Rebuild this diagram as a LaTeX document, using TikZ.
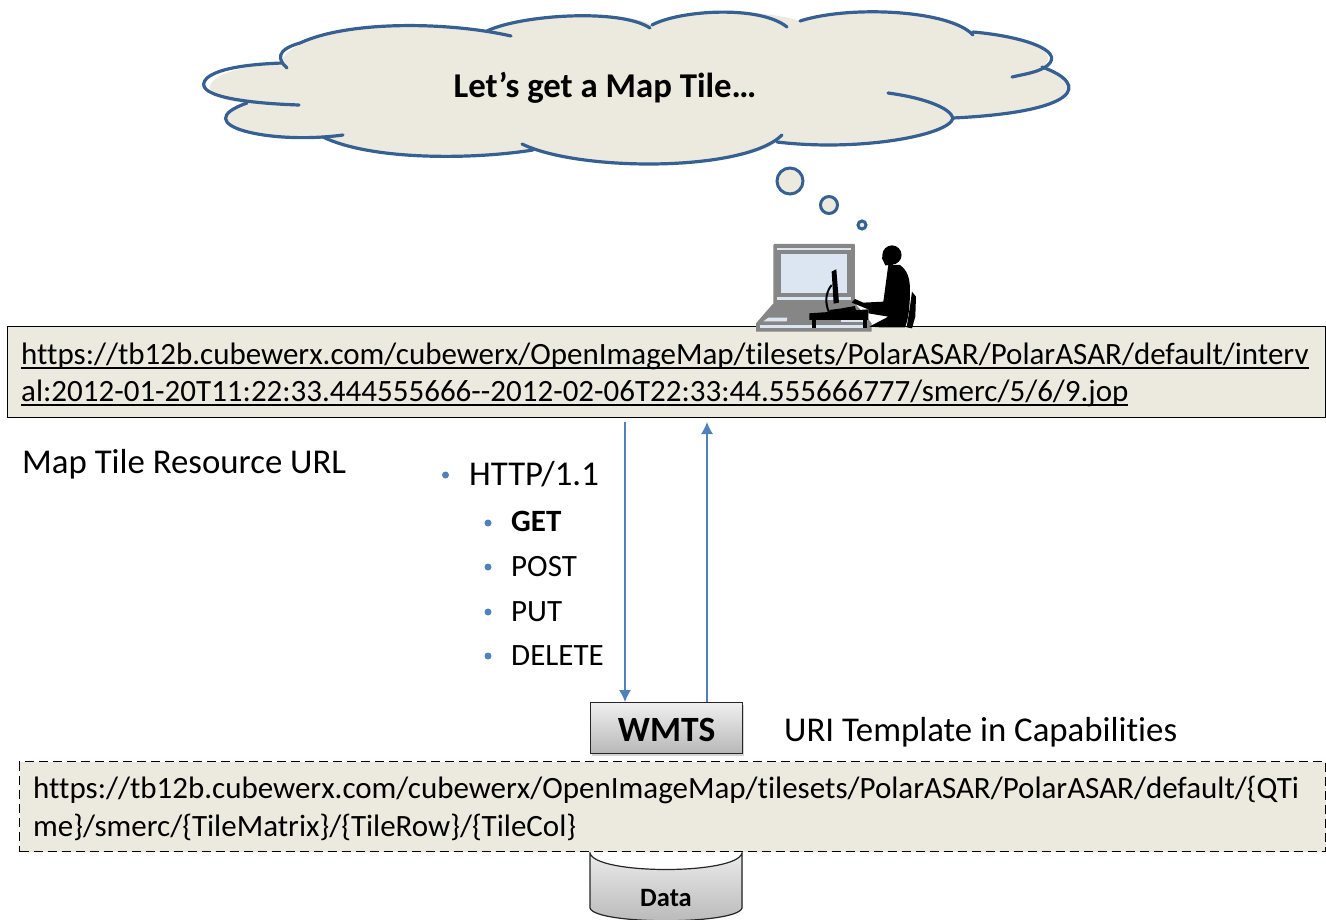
\documentclass[tikz,border=0pt]{standalone}
\usepackage{fontspec}
\setmainfont[Ligatures=NoCommon]{Carlito}
\usetikzlibrary{shadows,arrows.meta}
\definecolor{cloudfill}{HTML}{ECEADF}
\definecolor{cloudline}{HTML}{376092}
\definecolor{bul}{HTML}{4F81BD}
\definecolor{lapgray}{HTML}{868686}
\definecolor{lapblue}{HTML}{DCE6F2}
\newcommand{\ulurl}[1]{\leavevmode\setbox0\hbox{#1}\rlap{\rule[-4.5pt]{\wd0}{1.4pt}}\box0}
\newcommand{\fsz}[1]{\fontsize{#1}{#1}\selectfont}
\tikzset{
  cloudstroke/.style={draw=cloudline,line width=3.2pt,line cap=round},
  bubble/.style={circle,draw=cloudline,line width=3pt,fill=cloudfill,inner sep=0pt},
  urlbox/.style={draw=black,line width=1pt,fill=cloudfill,anchor=north west,inner sep=0pt},
  urltext/.style={anchor=west,align=left,inner xsep=14pt,inner ysep=0pt,font=\fsz{31}},
  plainlabel/.style={anchor=base west,inner sep=0pt,font=\fsz{34.8}},
  item/.style={anchor=base west,inner sep=0pt,font=\fsz{31}},
  bulletdot/.style={circle,fill=bul,inner sep=0pt,minimum size=7pt},
  conn/.style={draw=bul,line width=1.3pt,-{Latex[length=12pt,width=12pt]}},
  graybox/.style={draw=black!85,line width=1.2pt,top color=black!6,bottom color=black!28},
}
\begin{document}
\begin{tikzpicture}[x=1pt,y=-1pt]
\useasboundingbox (0,0) rectangle (1326,919);
% cloud
\fill[cloudfill] (282,60) .. controls (290,35) and (400,15) .. (487,31)
  .. controls (520,15) and (620,8) .. (652,25)
  .. controls (680,10) and (760,8) .. (800,21)
  .. controls (850,5) and (950,10) .. (973,33)
  .. controls (1020,38) and (1065,50) .. (1042,67)
  .. controls (1092,85) and (1078,112) .. (953,118)
  .. controls (950,135) and (860,150) .. (777,142)
  .. controls (740,170) and (580,170) .. (533,150)
  .. controls (470,160) and (370,160) .. (323,137)
  .. controls (270,145) and (185,125) .. (247,103)
  .. controls (195,100) and (190,70) .. (282,63) -- cycle;
\draw[cloudstroke] (287,68) .. controls (278,60) and (275,50) .. (300,43) .. controls (350,20) and (450,22) .. (511,36);
\draw[cloudstroke] (487,31) .. controls (520,15) and (620,8) .. (650,28);
\draw[cloudstroke] (652,25) .. controls (680,10) and (760,5) .. (787,27);
\draw[cloudstroke] (800,21) .. controls (850,5) and (950,10) .. (973,35);
\draw[cloudstroke] (973,32) .. controls (1020,36) and (1065,50) .. (1048,65) .. controls (1040,72) and (1025,74) .. (1012,77);
\draw[cloudstroke] (1042,67) .. controls (1092,85) and (1078,112) .. (953,118);
\draw[cloudstroke] (888,93) .. controls (925,98) and (950,108) .. (953,118) .. controls (950,135) and (860,152) .. (777,142);
\draw[cloudstroke] (782,135) .. controls (745,172) and (580,172) .. (522,144);
\draw[cloudstroke] (533,150) .. controls (470,160) and (370,160) .. (323,137);
\draw[cloudstroke] (343,135) .. controls (270,145) and (185,125) .. (247,103);
\draw[cloudstroke] (299,105) .. controls (240,103) and (190,95) .. (207,78) .. controls (220,67) and (255,64) .. (282,63);
\node[inner sep=0pt,font=\bfseries\fsz{34.8}] (title) at (605,88) {Let’s get a Map Tile…};
% thought bubbles
\node[bubble,minimum size=26pt] (b1) at (790,181) {};
\node[bubble,minimum size=17pt] (b2) at (829,205) {};
\node[bubble,minimum size=8pt] (b3) at (862,225) {};
% URL boxes
\node[urlbox,minimum width=1318pt,minimum height=91pt] (url) at (7,326) {};
\node[urltext,text width=1295pt] (urltxt) at ([yshift=-2.5pt]url.west)
 {\ulurl{https://tb12b.cubewerx.com/cubewerx/OpenImageMap/tilesets/PolarASAR/PolarASAR/default/interv}\\[6pt]
  \ulurl{al:2012-01-20T11:22:33.444555666-{}-2012-02-06T22:33:44.555666777/smerc/5/6/9.jop}};
% laptop and person
\begin{scope}[shift={(740,150)},x=0.3333pt,y=-0.3333pt]
  \fill[lapgray,rounded corners=1pt] (100,282) rectangle (345,462);
  \fill[lapblue] (112,293) rectangle (332,450);
  \fill[lapgray] (112,300) rectangle (332,440);
  \fill[lapblue] (123,312) rectangle (320,430);
  \fill[lapgray] (100,460) -- (345,460) -- (395,520) -- (395,545) -- (48,545) -- (48,520) -- cycle;
  \fill[lapblue] (70,514) -- (85,503) -- (142,503) -- (140,514) -- cycle;
  \fill[lapblue] (60,525) rectangle (370,535);
  \fill[lapblue] (302,508) rectangle (370,515);
  % desk
  \fill[black] (208,490) -- (385,478) -- (385,510) -- (208,510) -- cycle;
  \fill[black] (215,505) rectangle (228,535);
  \fill[black] (368,505) rectangle (382,535);
  % monitor
  \fill[black] (275,365) -- (289,358) -- (297,458) -- (281,461) -- cycle;
  \draw[black,line width=2pt] (275,405) .. controls (255,430) and (255,460) .. (268,490);
  \fill[black] (268,480) -- (300,476) -- (345,468) -- (350,490) -- (268,490) -- cycle;
  % person
  \fill[black] (456,315) circle[radius=9.6pt];
  \fill[black] (432,305) -- (426,325) -- (436,346) -- (460,345) -- cycle;
  \fill[black] (445,345) -- (480,345) .. controls (500,360) and (510,380) .. (510,420)
    .. controls (510,470) and (505,510) .. (495,532) -- (420,532) -- (388,530)
    -- (445,500) -- (385,490) -- (385,478) -- (365,470) -- (335,458) -- (345,447) -- (370,458) -- (430,455)
    .. controls (435,420) and (440,380) .. cycle;
  \fill[black] (516,425) -- (528,440) -- (526,500) -- (516,535) -- (500,532) -- (510,470) -- cycle;
\end{scope}
% labels
\node[plainlabel] (lbl1) at (22,473) {Map Tile Resource URL};
\node[bulletdot] (d0) at (445.5,475) {};
\node[plainlabel] (i0) at (469,485) {HTTP/1.1};
\node[bulletdot] (d1) at (488,523) {};
\node[item,font=\bfseries\fsz{31}] (i1) at (511,531) {GET};
\node[bulletdot] (d2) at (488,567) {};
\node[item] (i2) at (511,576) {POST};
\node[bulletdot] (d3) at (488,612) {};
\node[item] (i3) at (511,621) {PUT};
\node[bulletdot] (d4) at (488,656) {};
\node[item] (i4) at (511,665) {DELETE};
% data cylinder
\fill[top color=black!8,bottom color=black!28,draw=black!85,line width=1.2pt]
  (590,853) -- (590,908) .. controls (595,925) and (737,925) .. (742,908) -- (742,853)
  .. controls (737,875) and (595,875) .. (590,853) -- cycle;
\node[inner sep=0pt,font=\bfseries\fsz{26.5}] (data) at (666,898) {Data};
% WMTS
\node[graybox,anchor=north west,minimum width=152pt,minimum height=51pt,inner sep=0pt,drop shadow={opacity=.35,shadow xshift=1pt,shadow yshift=-2.5pt}] (wmts) at (590,702) {};
\node[inner sep=0pt,font=\bfseries\fsz{35.5}] (wmtstxt) at ([yshift=-2pt]wmts.center) {WMTS};
\node[plainlabel] (lbl2) at (784,741) {URI Template in Capabilities};
\node[urlbox,dash pattern=on 9pt off 5pt,minimum width=1306pt,minimum height=90pt] (tmpl) at (19,761) {};
\node[urltext,text width=1285pt] (tmpltxt) at ([yshift=-2pt]tmpl.west)
 {https://tb12b.cubewerx.com/cubewerx/OpenImageMap/tilesets/PolarASAR/PolarASAR/default/\{QTi\\[7pt]
  me\}/smerc/\{TileMatrix\}/\{TileRow\}/\{TileCol\}};
% connectors
\coordinate (dn) at (625,560);
\coordinate (up) at (707,560);
\draw[conn,shorten <=4pt] (url.south -| dn) -- (wmts.north -| dn);
\draw[conn,shorten >=4pt] (wmts.north -| up) -- (url.south -| up);
\end{tikzpicture}
\end{document}
